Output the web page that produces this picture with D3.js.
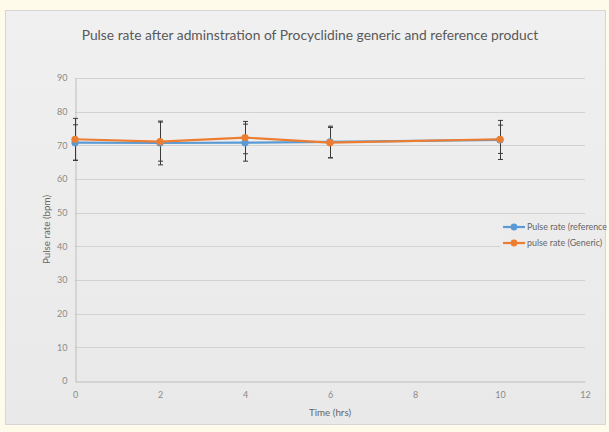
<!DOCTYPE html>
<html><head><meta charset="utf-8">
<script src="https://cdn.jsdelivr.net/npm/d3@7"></script>
<style>body{margin:0;background:#fffbea;}svg{display:block;}</style>
</head><body>
<svg id="c" width="609" height="432"></svg>
<script>
const times = [0, 2, 4, 6, 10];
const refMean = [70.8, 70.7, 70.8, 71.0, 71.6];
const refSD   = [5.3, 6.5, 5.5, 4.7, 5.8];
const genMean = [71.8, 71.1, 72.3, 70.8, 71.8];
const genSD   = [6.2, 5.8, 4.8, 4.5, 4.2];
const xTicks = [0, 2, 4, 6, 8, 10, 12];
const yTicks = [0, 10, 20, 30, 40, 50, 60, 70, 80, 90];
const seriesNames = ["Pulse rate (reference", "pulse rate (Generic)"];
const colors = ["#5b9bd5", "#ed7d31"];

const svg = d3.select("#c");
const font = "Lato, 'Open Sans', sans-serif";
const defs = svg.append("defs");
const g1 = defs.append("linearGradient").attr("id","bg").attr("x1",0).attr("y1",0).attr("x2",0).attr("y2",1);
g1.append("stop").attr("offset","0%").attr("stop-color","#f0f0f0");
g1.append("stop").attr("offset","100%").attr("stop-color","#e9e9e9");
svg.append("rect").attr("x",5.5).attr("y",10.5).attr("width",600).attr("height",414)
  .attr("fill","url(#bg)").attr("stroke","#d6d6d6");

const x = d3.scaleLinear().domain([0,12]).range([75,585]);
const y = d3.scaleLinear().domain([0,90]).range([381,78]);

// gridlines
svg.append("g").selectAll("line").data(yTicks.slice(1)).join("line")
  .attr("x1",x(0)).attr("x2",x(12)).attr("y1",d=>Math.round(y(d))+0.5).attr("y2",d=>Math.round(y(d))+0.5)
  .attr("stroke","#d2d2d2").attr("stroke-width",1);

// axes
const xa = svg.append("g").attr("transform",`translate(0,${Math.round(y(0))+0.5})`)
  .call(d3.axisBottom(x).tickValues(xTicks).tickSize(0).tickPadding(10));
xa.select(".domain").attr("stroke","#bdbdbd");
xa.selectAll("text").attr("fill","#8a8a8a").attr("font-size","9px").attr("font-family",font);
const ya = svg.append("g").attr("transform",`translate(${x(0)+0.5},0)`)
  .call(d3.axisLeft(y).tickValues(yTicks).tickSize(0).tickPadding(8));
ya.select(".domain").attr("stroke","#bdbdbd");
ya.selectAll("text").attr("fill","#8a8a8a").attr("font-size","9px").attr("font-family",font);

// titles
svg.append("text").attr("x",310).attr("y",40).attr("text-anchor","middle")
  .attr("font-family",font).attr("font-size","13.8px").attr("fill","#595959")
  .text("Pulse rate after adminstration of Procyclidine generic and reference product");
svg.append("text").attr("x",x(6)).attr("y",416).attr("text-anchor","middle")
  .attr("font-family",font).attr("font-size","9.8px").attr("fill","#666")
  .text("Time (hrs)");
svg.append("text").attr("transform",`translate(50,${(y(0)+y(90))/2}) rotate(-90)`).attr("text-anchor","middle")
  .attr("font-family",font).attr("font-size","9.8px").attr("fill","#666")
  .text("Pulse rate (bpm)");

const series = [
  {means: refMean, sds: refSD},
  {means: genMean, sds: genSD}
];
const pts = s => times.map((t,i)=>({t, m:s.means[i], sd:s.sds[i]}));

// error bars
series.forEach((s,si)=>{
  const eg = svg.append("g").attr("stroke","#3a3a3a").attr("stroke-width",1);
  pts(s).forEach(p=>{
    const cx = Math.round(x(p.t))+0.5;
    eg.append("line").attr("x1",cx).attr("x2",cx).attr("y1",y(p.m+p.sd)).attr("y2",y(p.m-p.sd));
    [p.m+p.sd, p.m-p.sd].forEach(v=>{
      eg.append("line").attr("x1",cx-2.5).attr("x2",cx+2.5).attr("y1",y(v)).attr("y2",y(v));
    });
  });
});

// lines and markers
const line = d3.line().x(d=>x(d.t)).y(d=>y(d.m));
series.forEach((s,si)=>{
  svg.append("path").datum(pts(s)).attr("d",line).attr("fill","none")
    .attr("stroke",colors[si]).attr("stroke-width",2.2);
  svg.append("g").selectAll("circle").data(pts(s)).join("circle")
    .attr("cx",d=>x(d.t)).attr("cy",d=>y(d.m)).attr("r",3.6).attr("fill",colors[si]);
});

// legend
const lg = svg.append("g");
lg.append("rect").attr("x",500).attr("y",215).attr("width",104).attr("height",40).attr("fill","#ececec");
seriesNames.forEach((n,i)=>{
  const ly = 227 + i*16;
  lg.append("line").attr("x1",503).attr("x2",525).attr("y1",ly).attr("y2",ly).attr("stroke",colors[i]).attr("stroke-width",2.2);
  lg.append("circle").attr("cx",514).attr("cy",ly).attr("r",3.4).attr("fill",colors[i]);
  lg.append("text").attr("x",527).attr("y",ly+3).attr("font-family",font).attr("font-size","8.9px").attr("fill","#666").text(n);
});
</script>
</body></html>
